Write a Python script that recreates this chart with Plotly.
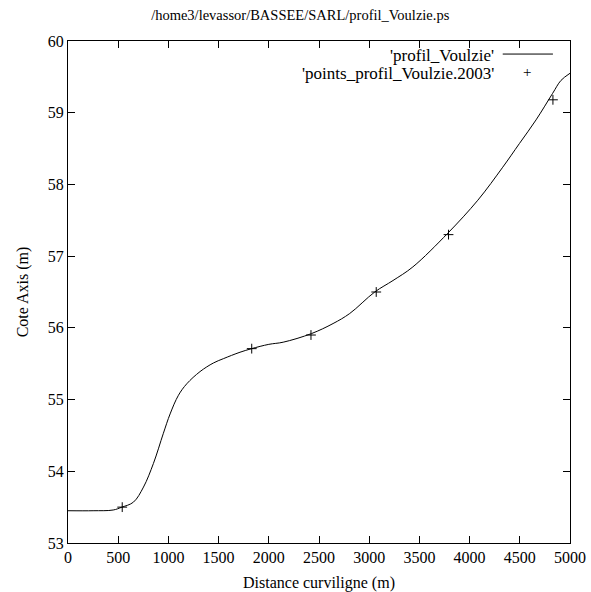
import plotly.graph_objects as go

# Curve 'profil_Voulzie'
curve_x = [0, 250, 450, 537, 652, 752, 851, 950, 1017, 1100, 1183, 1315, 1448, 1547,
           1713, 1829, 2000, 2143, 2425, 2640, 2806, 3055, 3237, 3435, 3783,
           4082, 4330, 4496, 4662, 4827, 4910, 5000]
curve_y = [53.45, 53.45, 53.46, 53.50, 53.57, 53.78, 54.11, 54.53, 54.80, 55.06, 55.22,
           55.39, 55.51, 55.57, 55.66, 55.71, 55.77, 55.80, 55.92, 56.06, 56.20,
           56.50, 56.66, 56.85, 57.32, 57.78, 58.24, 58.57, 58.90, 59.27, 59.45,
           59.55]

# Points 'points_profil_Voulzie.2003'
pts_x = [540, 1830, 2420, 3070, 3790, 4830]
pts_y = [53.50, 55.71, 55.90, 56.50, 57.30, 59.18]

x_ticks = [0, 500, 1000, 1500, 2000, 2500, 3000, 3500, 4000, 4500, 5000]
y_ticks = [53, 54, 55, 56, 57, 58, 59, 60]

FONT = "Liberation Serif, Times New Roman, serif"

fig = go.Figure()
fig.add_trace(go.Scatter(x=curve_x, y=curve_y, mode="lines",
                         line=dict(color="black", width=1, shape="spline", smoothing=1.0),
                         name="'profil_Voulzie'", showlegend=False))
fig.add_trace(go.Scatter(x=pts_x, y=pts_y, mode="markers",
                         marker=dict(symbol="cross-thin", size=7,
                                     line=dict(color="black", width=1)),
                         name="'points_profil_Voulzie.2003'", showlegend=False))

axis_common = dict(showgrid=False, zeroline=False, showline=True, linecolor="black",
                   linewidth=1, mirror="ticks", ticks="inside", ticklen=7,
                   tickcolor="black", tickwidth=1, automargin=False,
                   tickfont=dict(family=FONT, size=16, color="black"))

fig.update_xaxes(range=[0, 5000], tickvals=x_ticks,
                 title=dict(text="Distance curviligne (m)",
                            font=dict(family=FONT, size=16, color="black")),
                 **axis_common)
fig.update_yaxes(range=[53, 60], tickvals=y_ticks,
                 title=dict(text="Cote Axis (m)",
                            font=dict(family=FONT, size=16, color="black")),
                 **axis_common)

# Legend in gnuplot style: right-aligned text with sample to its right
fig.add_annotation(xref="paper", yref="paper", x=0.852, y=0.972, xanchor="right",
                   yanchor="middle", showarrow=False, text="'profil_Voulzie'",
                   font=dict(family=FONT, size=17, color="black"))
fig.add_annotation(xref="paper", yref="paper", x=0.852, y=0.936, xanchor="right",
                   yanchor="middle", showarrow=False, text="'points_profil_Voulzie.2003'",
                   font=dict(family=FONT, size=17, color="black"))
fig.add_shape(type="line", xref="paper", yref="paper", x0=0.866, x1=0.966,
              y0=0.974, y1=0.974, line=dict(color="black", width=1))
fig.add_annotation(xref="paper", yref="paper", x=0.915, y=0.938, xanchor="center",
                   yanchor="middle", showarrow=False, text="+",
                   font=dict(family=FONT, size=15, color="black"))

fig.update_layout(
    width=591, height=592,
    margin=dict(l=68, r=21, t=41, b=49),
    paper_bgcolor="white", plot_bgcolor="white",
    title=dict(text="/home3/levassor/BASSEE/SARL/profil_Voulzie.ps",
               x=0.508, xanchor="center", y=0.975, yanchor="middle",
               font=dict(family=FONT, size=14.5, color="black")),
)

fig.write_html("out.html")
